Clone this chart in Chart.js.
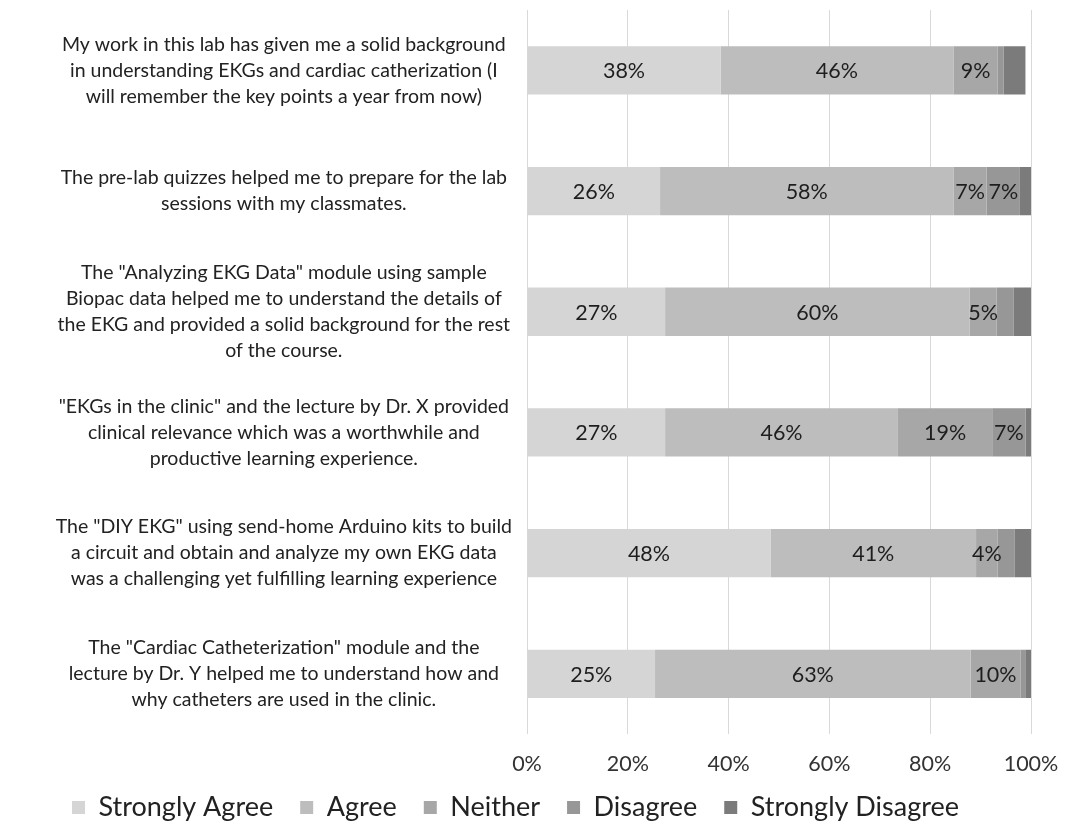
<!DOCTYPE html>
<html>
<head>
<meta charset="utf-8">
<script src="https://cdn.jsdelivr.net/npm/chart.js@4"></script>
<style>
    body { margin: 0; background: #fff; }
    #wrap { width: 1068px; height: 831px; }
</style>
</head>
<body>
<div id="wrap"><canvas id="survey-chart" width="1068" height="831"></canvas></div>
<script>
/* ============================================= */
/*                    Data                       */
/* ============================================= */

const statements = [
    ["My work in this lab has given me a solid background", "in understanding EKGs and cardiac catherization (I", "will remember the key points a year from now)"],
    ["The pre-lab quizzes helped me to prepare for the lab", "sessions with my classmates."],
    ["The \"Analyzing EKG Data\" module using sample", "Biopac data helped me to understand the details of", "the EKG and provided a solid background for the rest", "of the course."],
    ["\"EKGs in the clinic\" and the lecture by Dr. X provided", "clinical relevance which was a worthwhile and", "productive learning experience."],
    ["The \"DIY EKG\" using send-home Arduino kits to build", "a circuit and obtain and analyze my own EKG data", "was a challenging yet fulfilling learning experience"],
    ["The \"Cardiac Catheterization\" module and the", "lecture by Dr. Y helped me to understand how and", "why catheters are used in the clinic."]
];

const responses = ["Strongly Agree", "Agree", "Neither", "Disagree", "Strongly Disagree"];

const stronglyAgree    = [38.4, 26.4, 27.4, 27.4, 48.3, 25.4];
const agree            = [46.2, 58.2, 60.4, 46.2, 40.8, 62.6];
const neither          = [8.8, 6.6, 5.4, 18.7, 4.3, 9.9];
const disagree         = [1.2, 6.6, 3.4, 6.6, 3.4, 1.1];
const stronglyDisagree = [4.3, 2.2, 3.4, 1.1, 3.2, 1.0];

const xTicks = [0, 20, 40, 60, 80, 100];

const greys = ['#d5d5d5', '#bdbdbd', '#a7a7a7', '#979797', '#7b7b7b'];

/* ============================================= */
/*                  Bar Chart                    */
/* ============================================= */

const FONT = 'Lato, "DejaVu Sans", sans-serif';

const seriesValues = [stronglyAgree, agree, neither, disagree, stronglyDisagree];

const surveyData = {
    labels: statements,
    datasets: responses.map((name, i) => ({
        label: name,
        data: seriesValues[i],
        backgroundColor: greys[i],
        borderWidth: 0,
        categoryPercentage: 1,
        barPercentage: 0.4
    }))
};

// draw percentage labels in the middle of each segment
const segmentLabels = {
    id: 'segmentLabels',
    afterDatasetsDraw(chart) {
        const ctx = chart.ctx;
        ctx.save();
        ctx.font = '21.5px ' + FONT;
        ctx.fillStyle = '#1e1e1e';
        ctx.textAlign = 'center';
        ctx.textBaseline = 'middle';
        chart.data.datasets.forEach((ds, di) => {
            if (di > 3) return;
            const meta = chart.getDatasetMeta(di);
            meta.data.forEach((bar, i) => {
                const v = ds.data[i];
                if (v < 4) return;
                const mid = (bar.x + bar.base) / 2;
                ctx.fillText(Math.round(v) + '%', mid, bar.y + 1);
            });
        });
        ctx.restore();
    }
};

const surveyOptions = {
    indexAxis: 'y',
    responsive: false,
    animation: false,
    layout: {
        padding: { top: 10, right: 37, left: 0, bottom: 0 }
    },
    scales: {
        x: {
            stacked: true,
            min: 0,
            max: 100,
            afterBuildTicks: axis => {
                axis.ticks = xTicks.map(v => ({ value: v }));
            },
            afterFit: scale => {
                scale.paddingLeft = 0;
                scale.paddingRight = 0;
            },
            grid: {
                color: '#d9d9d9',
                lineWidth: 1,
                drawTicks: false
            },
            border: { display: false },
            ticks: {
                padding: 17,
                color: '#333',
                font: { family: FONT, size: 21.5 },
                callback: v => v + '%'
            }
        },
        y: {
            stacked: true,
            grid: { display: false },
            border: { display: false },
            afterFit: scale => {
                scale.width = 527;
                scale.paddingTop = 0;
                scale.paddingBottom = 0;
            },
            ticks: {
                crossAlign: 'center',
                padding: 7,
                color: '#222',
                font: { family: FONT, size: 19.5, lineHeight: 1.33 }
            }
        }
    },
    plugins: {
        legend: {
            position: 'bottom',
            labels: {
                boxWidth: 13,
                boxHeight: 13,
                padding: 0,
                color: '#222',
                font: { family: FONT, size: 27 },
                // extra room between legend entries
                generateLabels: chart => {
                    const items = Chart.defaults.plugins.legend.labels.generateLabels(chart);
                    items.forEach((item, i) => {
                        if (i < items.length - 1) item.text += '\u2002\u2002';
                    });
                    return items;
                }
            }
        },
        tooltip: { enabled: false }
    }
};

const surveyCanvas = document.getElementById('survey-chart');

let surveyChart = new Chart(surveyCanvas, {
    type: 'bar',
    data: surveyData,
    options: surveyOptions,
    plugins: [segmentLabels]
});
</script>
</body>
</html>
